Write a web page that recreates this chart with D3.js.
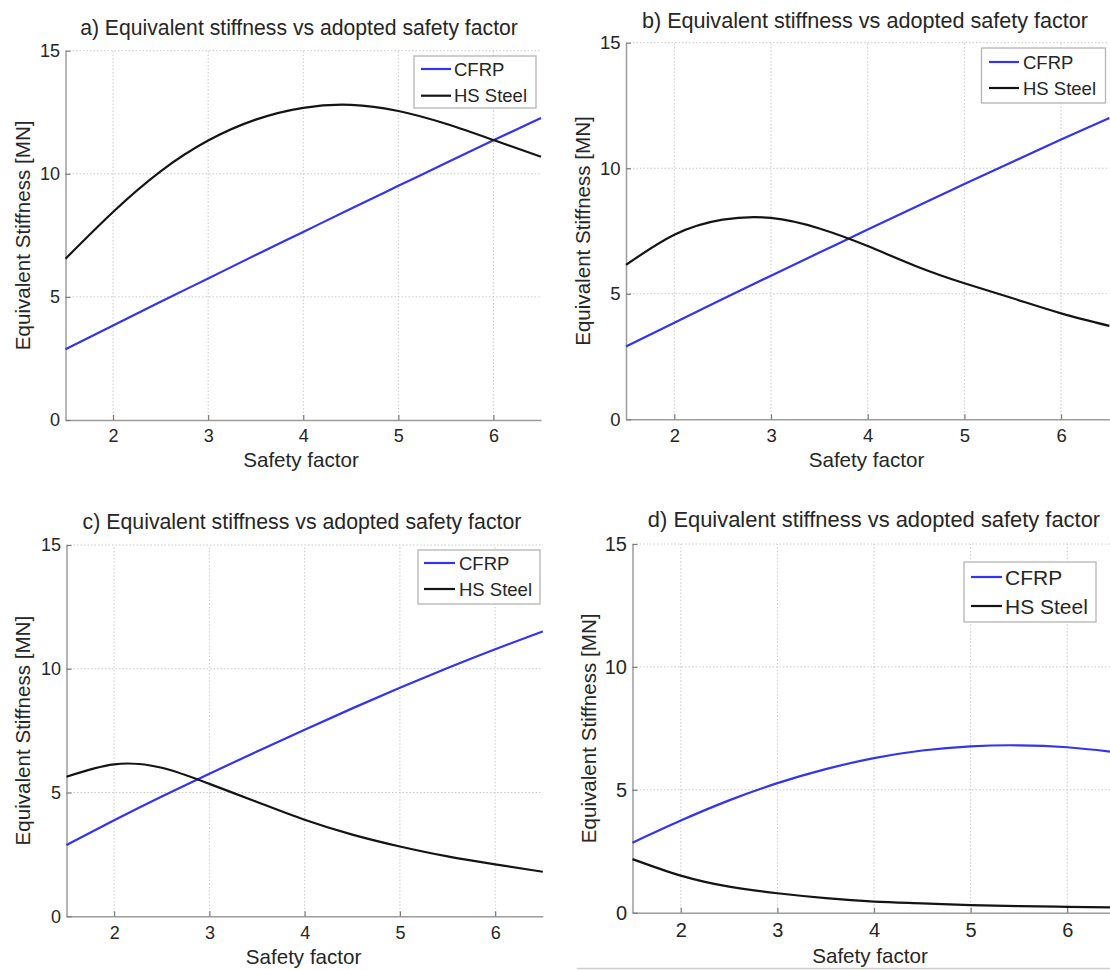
<!DOCTYPE html>
<html>
<head>
<meta charset="utf-8">
<script src="https://cdn.jsdelivr.net/npm/d3@7"></script>
<style>
  body { margin: 0; background: #fff; }
  svg { display: block; font-family: "Liberation Sans", Arial, Helvetica, sans-serif; }
</style>
</head>
<body>
<svg id="fig" width="1110" height="970"></svg>
<script>
// Safety factor samples (x) shared by every panel
const safetyFactor = [1.5, 2, 2.5, 3, 3.5, 4, 4.5, 5, 5.5, 6, 6.5];
const xTicks = [2, 3, 4, 5, 6];
const yTicks = [0, 5, 10, 15];
const seriesNames = ["CFRP", "HS Steel"];
const seriesColors = ["#3434ee", "#141414"];
const panelTitles = [
  "a) Equivalent stiffness vs adopted safety factor",
  "b) Equivalent stiffness vs adopted safety factor",
  "c) Equivalent stiffness vs adopted safety factor",
  "d) Equivalent stiffness vs adopted safety factor"
];
const xAxisLabel = "Safety factor";
const yAxisLabel = "Equivalent Stiffness [MN]";

// Equivalent stiffness [MN]
const cfrpA  = [2.87, 3.84, 4.80, 5.75, 6.70, 7.64, 8.58, 9.51, 10.44, 11.36, 12.27];
const steelA = [6.55, 8.45, 10.10, 11.35, 12.20, 12.68, 12.80, 12.55, 12.03, 11.37, 10.69];
const cfrpB  = [2.90, 3.85, 4.79, 5.72, 6.64, 7.56, 8.47, 9.37, 10.26, 11.14, 12.00];
const steelB = [6.15, 7.35, 7.95, 8.02, 7.60, 6.90, 6.10, 5.42, 4.82, 4.22, 3.72];
const cfrpC  = [2.88, 3.88, 4.84, 5.76, 6.66, 7.54, 8.40, 9.23, 10.03, 10.79, 11.51];
const steelC = [5.64, 6.14, 6.00, 5.35, 4.62, 3.90, 3.30, 2.82, 2.42, 2.10, 1.80];
const cfrpD  = [2.85, 3.75, 4.57, 5.27, 5.84, 6.29, 6.60, 6.77, 6.81, 6.73, 6.53];
const steelD = [2.18, 1.51, 1.06, 0.79, 0.59, 0.45, 0.38, 0.31, 0.27, 0.24, 0.21];

const panelSeries = [[cfrpA, steelA], [cfrpB, steelB], [cfrpC, steelC], [cfrpD, steelD]];

// Page layout of the four axes
const layout = [
  { left: 65.5, right: 541, top: 50.7, bottom: 420, titleX: 299, titleY: 35, titleFont: 21.2,
    xLabelX: 301, xLabelY: 467, yLabelX: 23, tickFont: 18, tickPad: 9.2,
    legend: { x: 414, y: 56, w: 122, h: 52, rows: [69, 95.7], lx1: 421, lx2: 451, tx: 454, font: 18.5 } },
  { left: 626, right: 1109.4, top: 42.7, bottom: 419.3, titleX: 865, titleY: 27.5, titleFont: 21.6,
    xLabelX: 866.5, xLabelY: 467, yLabelX: 583, tickFont: 18.5, tickPad: 9.2,
    legend: { x: 981.5, y: 48, w: 124, h: 55, rows: [62, 88], lx1: 989, lx2: 1019, tx: 1023, font: 18.5 } },
  { left: 66.5, right: 542.8, top: 545, bottom: 916.3, titleX: 302, titleY: 528.5, titleFont: 21.3,
    xLabelX: 303.6, xLabelY: 964, yLabelX: 23, tickFont: 18, tickPad: 9.5,
    legend: { x: 418, y: 550, w: 122, h: 54, rows: [563, 589], lx1: 424, lx2: 455, tx: 459, font: 18.5 } },
  { left: 632.5, right: 1115.5, top: 544, bottom: 912.7, titleX: 874, titleY: 527, titleFont: 21.9,
    xLabelX: 870, xLabelY: 963, yLabelX: 589, tickFont: 20, tickPad: 10.4,
    legend: { x: 964, y: 562, w: 132, h: 60, rows: [577, 606], lx1: 971, lx2: 1002, tx: 1005, font: 21 } }
];

const svg = d3.select("#fig");
const textColor = "#262626";

layout.forEach((L, i) => {
  const g = svg.append("g");
  const x = d3.scaleLinear().domain([1.5, 6.5]).range([L.left, L.right]);
  const y = d3.scaleLinear().domain([0, 15]).range([L.bottom, L.top]);

  // dotted grid
  g.append("g").selectAll("line").data(xTicks).join("line")
    .attr("x1", d => x(d)).attr("x2", d => x(d))
    .attr("y1", y(0)).attr("y2", y(15))
    .attr("stroke", "#c8c8c8").attr("stroke-width", 1).attr("stroke-dasharray", "1.5,2");
  g.append("g").selectAll("line").data(yTicks.filter(d => d > 0)).join("line")
    .attr("x1", x(1.5)).attr("x2", x(6.5))
    .attr("y1", d => y(d)).attr("y2", d => y(d))
    .attr("stroke", "#c8c8c8").attr("stroke-width", 1).attr("stroke-dasharray", "1.5,2");

  // axes with inward ticks
  const xAxis = g.append("g").attr("transform", `translate(0,${L.bottom})`)
    .call(d3.axisBottom(x).tickValues(xTicks).tickFormat(d3.format("d"))
      .tickSize(-5).tickSizeOuter(0).tickPadding(L.tickPad));
  const yAxis = g.append("g").attr("transform", `translate(${L.left},0)`)
    .call(d3.axisLeft(y).tickValues(yTicks).tickFormat(d3.format("d"))
      .tickSize(-5).tickSizeOuter(0).tickPadding(5.5));
  [xAxis, yAxis].forEach(a => {
    a.select(".domain").attr("stroke", "#9c9c9c").attr("stroke-width", 1.5);
    a.selectAll(".tick line").attr("stroke", "#7a7a7a").attr("stroke-width", 1.2);
    a.selectAll(".tick text").attr("fill", textColor)
      .style("font-size", L.tickFont + "px")
      .style("font-family", "'Liberation Sans', Arial, sans-serif");
  });

  // series lines
  const line = d3.line()
    .x((d, k) => x(safetyFactor[k]))
    .y(d => y(d))
    .curve(d3.curveNatural);
  panelSeries[i].forEach((vals, s) => {
    g.append("path").datum(vals)
      .attr("d", line)
      .attr("fill", "none")
      .attr("stroke", seriesColors[s])
      .attr("stroke-width", 2.2)
      .attr("stroke-linejoin", "round");
  });

  // title and axis labels
  g.append("text").attr("x", L.titleX).attr("y", L.titleY)
    .attr("text-anchor", "middle").attr("fill", textColor)
    .style("font-size", L.titleFont + "px").text(panelTitles[i]);
  g.append("text").attr("x", L.xLabelX).attr("y", L.xLabelY)
    .attr("text-anchor", "middle").attr("fill", textColor)
    .style("font-size", "20.6px").text(xAxisLabel);
  g.append("text")
    .attr("transform", `translate(${L.yLabelX},${(L.top + L.bottom) / 2}) rotate(-90)`)
    .attr("text-anchor", "middle").attr("dy", "0.36em").attr("fill", textColor)
    .style("font-size", "20.6px").text(yAxisLabel);

  // legend
  const lg = L.legend;
  g.append("rect").attr("x", lg.x).attr("y", lg.y).attr("width", lg.w).attr("height", lg.h)
    .attr("fill", "#fff").attr("stroke", "#b4b4b4").attr("stroke-width", 1.3);
  seriesNames.forEach((name, s) => {
    g.append("line").attr("x1", lg.lx1).attr("x2", lg.lx2)
      .attr("y1", lg.rows[s]).attr("y2", lg.rows[s])
      .attr("stroke", seriesColors[s]).attr("stroke-width", 2.2);
    g.append("text").attr("x", lg.tx).attr("y", lg.rows[s]).attr("dy", "0.36em")
      .attr("fill", textColor).style("font-size", lg.font + "px").text(name);
  });
});

// thin rule along the bottom of the lower-right figure
svg.append("line").attr("x1", 577).attr("x2", 1110).attr("y1", 968.5).attr("y2", 968.5)
  .attr("stroke", "#cfcfcf").attr("stroke-width", 1.5);
</script>
</body>
</html>
